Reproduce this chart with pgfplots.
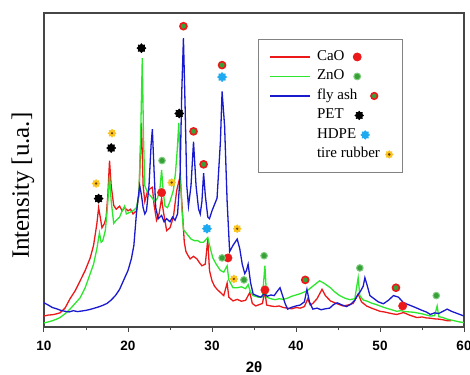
\documentclass[border=0pt]{standalone}
\usepackage{fontspec}
\setmainfont{Liberation Serif}
\setsansfont{Liberation Sans}
\usepackage{pgfplots}
\pgfplotsset{compat=1.18}
\usetikzlibrary{plotmarks}

\definecolor{cred}{RGB}{235,25,25}
\definecolor{cgreen}{RGB}{45,230,45}
\definecolor{cblue}{RGB}{25,25,205}
\definecolor{mgreen}{RGB}{55,160,55}
\definecolor{mgreenlt}{RGB}{125,205,125}
\definecolor{hdpe}{RGB}{30,170,240}
\definecolor{tire}{RGB}{250,195,30}
\definecolor{tiredot}{RGB}{110,60,10}
\definecolor{axgray}{RGB}{70,70,70}
\definecolor{leggray}{RGB}{130,130,130}

\pgfdeclareplotmark{cog}{%
  \pgfpathmoveto{\pgfpointpolar{90}{\pgfplotmarksize}}%
  \foreach \k in {1,...,15}{%
    \pgfmathsetmacro\rr{mod(\k,2)==0 ? 1 : 0.7}%
    \pgfpathlineto{\pgfpointpolar{90+\k*22.5}{\rr*\pgfplotmarksize}}%
  }%
  \pgfpathclose\pgfusepathqfillstroke}

\begin{document}
\begin{tikzpicture}
\path[use as bounding box] (-44pt,-47pt) rectangle (426pt,327pt);
\begin{axis}[
  scale only axis, width=420pt, height=314pt,
  xmin=10, xmax=60, ymin=0, ymax=100,
  axis line style={axgray, line width=1.2pt},
  xtick={10,20,...,60}, minor xtick={15,25,...,55},
  ytick=\empty,
  tick align=outside, xtick pos=bottom,
  major tick length=5pt, minor tick length=3pt,
  every tick/.style={axgray, line width=1pt},
  /pgf/number format/assume math mode=true,
  xticklabel style={font=\sffamily\bfseries\fontsize{13.5}{14}\selectfont, anchor=base, yshift=-18pt},
  xlabel={2θ},
  xlabel style={font=\sffamily\bfseries\fontsize{15}{16}\selectfont, at={(axis description cs:0.5,0)}, anchor=base, yshift=-45pt},
  ylabel={Intensity [u.a.]},
  ylabel style={font=\fontsize{25}{26}\selectfont, at={(axis description cs:-0.05,0.45)}, anchor=center},
  legend style={at={(axis cs:35.48,91.7)}, anchor=north west, draw=leggray, line width=0.8pt,
    font=\fontsize{15}{17}\selectfont, row sep=1.5pt, column sep=4pt, inner xsep=11pt, inner ysep=8.5pt,
    nodes={inner sep=2pt, text height=10.5pt, text depth=3.5pt}},
  legend cell align=left,
]
\addlegendimage{legend image code/.code={\draw[cred, line width=1.6pt] (0pt,0pt) -- (40pt,0pt);
  \fill[cred, overlay] (87pt,0pt) circle (4pt);}}
\addlegendentry{CaO}
\addlegendimage{legend image code/.code={\draw[cgreen, line width=1.6pt] (0pt,0pt) -- (40pt,0pt);
  \filldraw[fill=mgreen, draw=mgreenlt, line width=1pt, overlay] (87pt,0pt) circle (3.4pt);}}
\addlegendentry{ZnO}
\addlegendimage{legend image code/.code={\draw[cblue, line width=1.6pt] (0pt,0pt) -- (40pt,0pt);
  \filldraw[fill=mgreen, draw=cred, line width=1.6pt, overlay] (104pt,0pt) circle (3.3pt);}}
\addlegendentry{fly ash}
\addlegendimage{legend image code/.code={\path[overlay, draw=black, fill=black, line width=0.7pt, line join=round] plot[mark=cog, mark size=4.3pt, mark options={fill=black, draw=black}] coordinates {(89pt,0pt)};}}
\addlegendentry{PET}
\addlegendimage{legend image code/.code={\path[overlay, draw=hdpe, fill=hdpe, line width=0.7pt, line join=round] plot[mark=cog, mark size=4.3pt, mark options={fill=hdpe, draw=hdpe}] coordinates {(95pt,0pt)};}}
\addlegendentry{HDPE}
\addlegendimage{legend image code/.code={\path[overlay, draw=tire, fill=tire, line width=0.6pt, line join=round] plot[mark=cog, mark size=3.9pt, mark options={fill=tire, draw=tire}] coordinates {(119pt,0pt)};
  \fill[tiredot, overlay] (119pt,0pt) circle (0.9pt);}}
\addlegendentry{tire rubber\rule{9pt}{0pt}}
% CaO
\addplot[forget plot, cred, line width=1.3pt] coordinates {
(10,3.5)(10.5,3.8)(11,3.9)(11.5,4.2)(11.9,4.5)(12.5,6.0)(13.1,9)(13.7,11.5)(14.3,14.7)(14.9,18)
(15.5,22)(15.9,26)(16.3,33)(16.5,38)(16.7,35)(16.9,31.6)(17.2,33)(17.4,35)(17.6,42)(17.8,53)
(18.0,45)(18.3,38.7)(18.6,37.5)(19.0,38.5)(19.3,37)(19.6,38)(20.0,37)(20.3,37.5)(20.6,36)(21.0,37)
(21.3,42)(21.6,65)(21.8,45)(22.0,40)(22.3,43)(22.6,44)(22.9,44.5)(23.1,39)(23.4,34)(23.7,36)
(24.0,41)(24.2,37)(24.6,30.7)(25.0,31.6)(25.4,35)(25.8,43.5)(26.2,48)(26.45,38)(26.7,27)(26.9,24)
(27.1,23)(27.4,21.7)(27.8,22.5)(28.2,21.7)(28.5,20.5)(28.8,19.5)(29.2,20)(29.5,28)(29.7,18)(30.0,14.7)
(30.3,13)(30.6,12)(31.0,11)(31.4,10)(31.8,14)(32.0,9.5)(32.5,8.3)(33.0,8.8)(33.5,8.2)(34.0,8.5)
(34.5,11)(34.8,7.5)(35.2,6.7)(35.7,7.2)(36.0,7.5)(36.3,11.5)(36.5,7)(37.0,6.7)(37.5,6.5)(38.0,6.7)
(38.5,6.2)(39.0,6.0)(39.5,5.8)(40.0,6.2)(40.5,6.0)(41.0,6.5)(41.4,9)(41.7,7)(42.0,7.5)(42.5,9)
(43.1,12)(43.5,10)(44.1,8.3)(44.8,7.5)(45.6,6.7)(46.2,7)(46.8,7.5)(47.4,10.5)(47.8,8)(48.4,6.7)
(49.0,6)(49.5,5.5)(50.0,5)(50.5,4.8)(51.0,4.5)(51.5,4.2)(52.0,4)(52.8,4.6)(53.5,3.8)(54.4,3)
(55.0,3.2)(55.5,2.9)(56.0,2.8)(56.5,2.6)(57.0,2.5)(57.5,2.3)(58.0,2.0)(58.5,2.0)
};
% ZnO
\addplot[forget plot, cgreen, line width=1.3pt] coordinates {
(10,1.3)(10.5,1.6)(11,2.0)(11.5,2.5)(11.9,3.0)(12.5,4.2)(13.1,5.7)(13.7,7.5)(14.3,9.3)(14.9,12.5)
(15.5,17)(15.9,20)(16.3,25)(16.6,30)(16.8,27)(17.0,27.5)(17.3,30.7)(17.55,38)(17.8,48)(18.0,40)
(18.3,33)(18.6,34)(19.0,35)(19.3,37)(19.6,38.5)(19.8,36)(20.2,36.5)(20.6,37)(21.0,38)(21.3,42)
(21.5,60)(21.7,85.6)(21.85,60)(22.0,45)(22.3,43)(22.6,42)(22.9,41)(23.2,40)(23.5,41)(23.8,44)
(24.0,50)(24.2,43)(24.4,38.5)(24.7,38)(25.0,40)(25.4,43.5)(25.65,49)(25.85,56)(26.05,65)(26.2,52)
(26.4,38)(26.6,31)(26.9,30)(27.2,29)(27.5,28)(27.9,27.5)(28.3,27.5)(28.6,27)(29.0,27)(29.5,28.5)
(29.8,25)(30.1,22)(30.5,20)(31.0,18)(31.4,17.5)(31.8,19.5)(32.0,15)(32.5,12.5)(33.0,12.5)(33.5,12.8)
(34.0,12.2)(34.3,13.5)(34.6,11)(34.9,10)(35.5,9.5)(36.0,9.6)(36.3,19.5)(36.5,9.5)(37.0,9)(37.5,8.7)
(38.0,9)(38.5,8.8)(39.0,9.2)(39.5,9.8)(40.0,10.2)(40.5,10.6)(41.3,11.5)(42.0,13)(42.8,14.7)(43.3,14)
(44.1,12.5)(44.6,11.2)(45.2,10)(45.8,9.2)(46.4,8.7)(47.0,9)(47.4,15.7)(47.6,10)(48.0,8.6)(48.5,8.2)
(49.0,7.6)(49.5,7.2)(50.0,6.7)(50.5,6.2)(51.0,5.8)(51.5,5.4)(52.0,5.0)(52.5,5.2)(53.0,4.9)(54.0,4.7)
(55.0,4.2)(56.0,3.5)(56.5,3.6)(56.8,6.7)(57.0,3.3)(57.5,3.0)(58.0,2.5)(58.5,2.2)(59.0,1.9)(59.5,1.6)(60.0,1.4)
};
% fly ash
\addplot[forget plot, cblue, line width=1.3pt] coordinates {
(10,7.7)(10.5,7.0)(11,6.2)(11.5,5.8)(12,5.3)(12.5,5.0)(13,4.8)(13.5,5.2)(14,4.9)(14.5,5.1)
(15,5.3)(15.5,5.6)(16,6.0)(16.5,6.4)(17,6.9)(17.5,7.5)(18,8.6)(18.5,10.0)(19,12.0)(19.5,15.0)
(20,18.0)(20.4,21.7)(20.7,26)(21.0,36)(21.2,41)(21.4,45)(21.6,42)(21.8,38)(22.0,36)(22.2,37)
(22.5,45)(22.75,58)(22.9,63)(23.1,50)(23.3,38)(23.6,34.5)(24.0,35.5)(24.3,33.5)(24.6,34.5)(25.0,33.5)
(25.3,35)(25.6,34)(25.9,36)(26.2,48)(26.4,75)(26.6,92)(26.8,70)(27.0,45)(27.2,38.5)(27.5,45)
(27.8,59)(28.1,45)(28.4,37.6)(28.6,36)(28.8,40)(29.0,49)(29.2,42)(29.5,35)(29.7,34.5)(30.0,37)
(30.3,39)(30.6,41)(31.0,59)(31.2,75)(31.5,64)(31.8,40)(32.1,24)(32.5,26)(33.0,28)(33.3,25)
(33.6,20)(33.9,17)(34.1,18)(34.3,20)(34.6,14)(34.9,10.5)(35.3,10)(35.8,9.5)(36.2,10.5)(36.6,9.8)
(37.0,10.2)(37.4,10)(37.8,11.5)(38.1,12.5)(38.4,10)(38.7,7.5)(39.0,5.7)(39.5,6.3)(40.0,6.7)(40.5,7.0)
(41.0,8.0)(41.3,12)(41.6,8)(42.0,5.7)(42.5,6.0)(43.0,5.5)(43.5,5.8)(44.0,6.0)(44.5,7.2)(44.9,7.7)
(45.5,7.0)(46.0,6.5)(46.5,7.2)(47.0,8.5)(47.3,10)(47.7,11.5)(48.0,13)(48.2,15.7)(48.5,13)(48.8,10)
(49.3,9)(49.8,8)(50.4,7.4)(51.0,8.5)(51.6,10)(52.2,9.5)(52.8,7.7)(53.5,7.0)(54.4,6.0)(55.0,5.3)
(55.5,4.8)(56.0,4.0)(56.5,4.5)(57.0,4.3)(57.5,5.0)(58.0,5.7)(58.5,5.0)(59.0,4.5)(59.5,4.0)(60.0,3.5)
};
% markers
\addplot[forget plot, only marks, mark=*, mark size=4.2pt, color=cred] coordinates {
(24.0,42.8)(31.9,22)(36.3,11.8)(52.7,6.7)};
\addplot[forget plot, only marks, mark=*, mark size=3.3pt, mark options={fill=mgreen, draw=mgreenlt, line width=1pt}] coordinates {
(24.05,53)(31.2,22)(33.8,15)(36.2,22.7)(47.6,18.8)(56.7,10)};
\addplot[forget plot, only marks, mark=*, mark size=3.5pt, mark options={fill=mgreen, draw=cred, line width=1.6pt}] coordinates {
(26.6,95.8)(27.8,62.3)(29.0,51.8)(31.2,83.4)(41.1,15)(51.9,12.5)};
\addplot[forget plot, only marks, mark=cog, mark size=4.5pt, mark options={fill=black, draw=black, line width=0.7pt, line join=round}] coordinates {
(16.5,40.9)(18.0,57)(21.6,88.8)(26.1,68)};
\addplot[forget plot, only marks, mark=cog, mark size=4.5pt, mark options={fill=hdpe, draw=hdpe, line width=0.7pt, line join=round}] coordinates {
(31.2,79.6)(29.4,31.3)};
\addplot[forget plot, only marks, mark=cog, mark size=4pt, mark options={fill=tire, draw=tire, line width=0.6pt, line join=round}] coordinates {
(16.2,45.7)(18.1,61.7)(25.2,46)(33.0,31.3)(32.6,15.3)};
\addplot[forget plot, only marks, mark=*, mark size=0.9pt, color=tiredot] coordinates {
(16.2,45.7)(18.1,61.7)(25.2,46)(33.0,31.3)(32.6,15.3)};
\end{axis}
\end{tikzpicture}
\end{document}
